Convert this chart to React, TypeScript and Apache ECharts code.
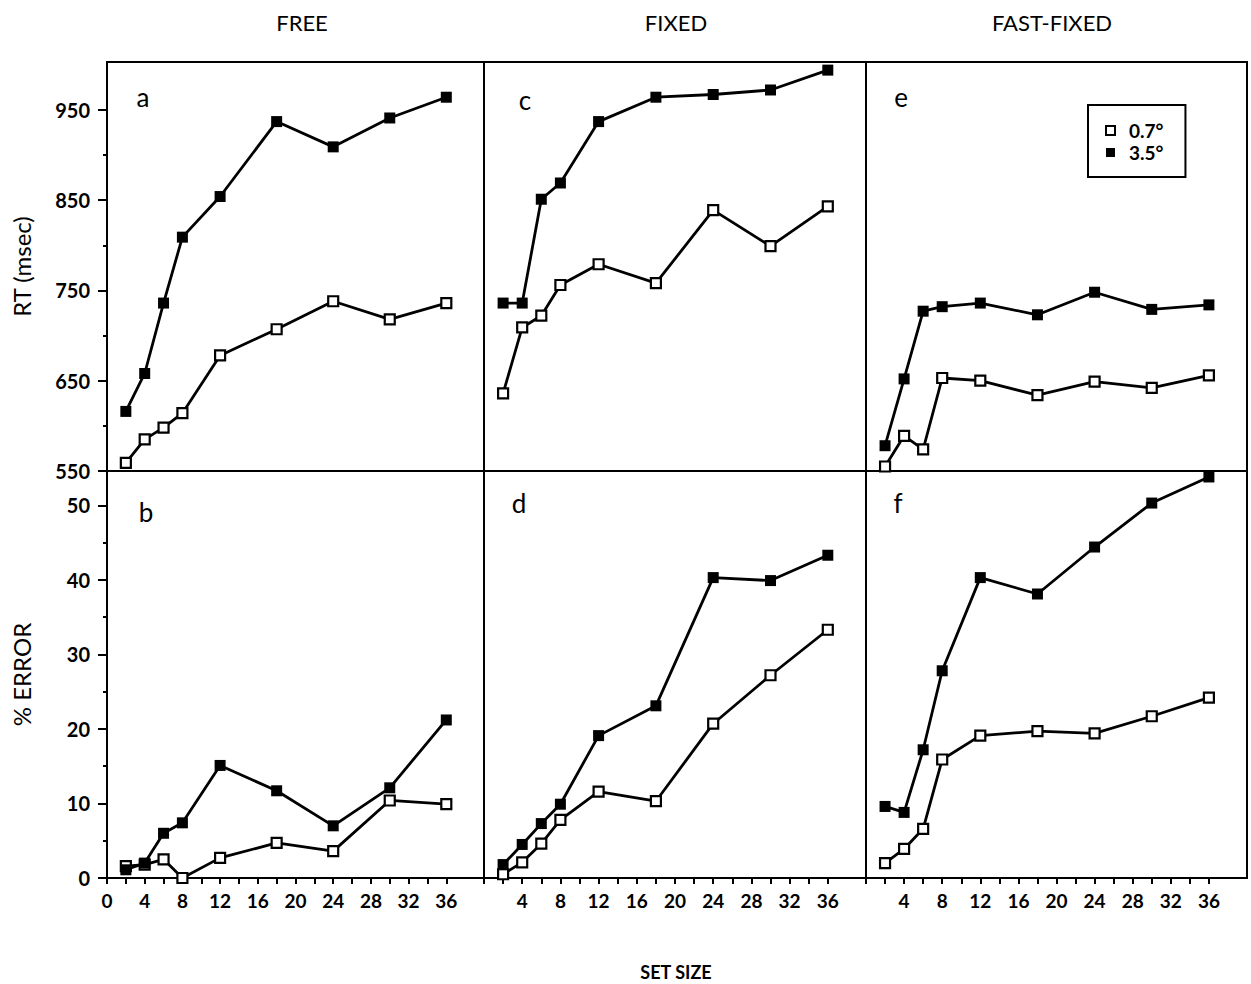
import React, { useEffect, useRef } from "react";
import * as echarts from "echarts";

// ---- data ----
const setSizes = [2, 4, 6, 8, 12, 18, 24, 30, 36];
const seriesNames = ["0.7°", "3.5°"];
const panelTitles = ["FREE", "FIXED", "FAST-FIXED"];
const panelLetters = [["a", "c", "e"], ["b", "d", "f"]];

// RT (msec)
const rtFreeSmall = [559, 585, 598, 614, 678, 707, 738, 718, 736];
const rtFreeLarge = [616, 658, 736, 809, 854, 937, 909, 941, 964];
const rtFixedSmall = [636, 709, 722, 756, 779, 758, 839, 799, 843];
const rtFixedLarge = [736, 736, 851, 869, 937, 964, 967, 972, 994];
const rtFastSmall = [555, 589, 574, 653, 650, 634, 649, 642, 656];
const rtFastLarge = [578, 652, 727, 732, 736, 723, 748, 729, 734];

// % ERROR
const errFreeSmall = [1.6, 1.8, 2.5, 0, 2.7, 4.7, 3.6, 10.4, 9.9];
const errFreeLarge = [1.1, 2.0, 6.0, 7.4, 15.1, 11.7, 7.0, 12.1, 21.2];
const errFixedSmall = [0.5, 2.1, 4.6, 7.8, 11.6, 10.3, 20.7, 27.2, 33.3];
const errFixedLarge = [1.8, 4.5, 7.3, 9.9, 19.1, 23.1, 40.3, 39.9, 43.3];
const errFastSmall = [2.0, 3.9, 6.6, 15.9, 19.1, 19.7, 19.4, 21.7, 24.2];
const errFastLarge = [9.6, 8.8, 17.2, 27.8, 40.3, 38.1, 44.4, 50.3, 53.8];

const rtLabels = [550, 650, 750, 850, 950];
const rtMinor = [600, 700, 800, 900];
const errLabels = [0, 10, 20, 30, 40, 50];
const errMinor = [5, 15, 25, 35, 45];
const xLabels = [0, 4, 8, 12, 16, 20, 24, 28, 32, 36];
const xLabelsInner = [4, 8, 12, 16, 20, 24, 28, 32, 36];
const xTicks = [0, 2, 4, 6, 8, 10, 12, 14, 16, 18, 20, 22, 24, 26, 28, 30, 32, 34, 36];

const rowData = [
  [
    [rtFreeSmall, rtFreeLarge],
    [rtFixedSmall, rtFixedLarge],
    [rtFastSmall, rtFastLarge],
  ],
  [
    [errFreeSmall, errFreeLarge],
    [errFixedSmall, errFixedLarge],
    [errFastSmall, errFastLarge],
  ],
];

const FONT = "Lato";

export default function App() {
  const ref = useRef<HTMLDivElement>(null);

  useEffect(() => {
    if (!ref.current) return;
    const chart = echarts.init(ref.current, null, { renderer: "svg" });

    const cols = [
      { left: 107, width: 377 },
      { left: 484, width: 382 },
      { left: 866, width: 381 },
    ];
    const rows = [
      { top: 62, height: 409, min: 550, max: 1003, labels: rtLabels, minor: rtMinor, name: "RT (msec)" },
      { top: 471, height: 407, min: 0, max: 54.6, labels: errLabels, minor: errMinor, name: "% ERROR" },
    ];

    const grid: any[] = [];
    const xAxis: any[] = [];
    const yAxis: any[] = [];
    const series: any[] = [];
    const graphic: any[] = [];

    rows.forEach((row, r) => {
      cols.forEach((col, c) => {
        const gi = grid.length;
        grid.push({
          left: col.left,
          width: col.width,
          top: row.top,
          height: row.height,
          show: true,
          borderColor: "#000",
          borderWidth: 2,
          backgroundColor: "transparent",
          containLabel: false,
        });
        const bottomRow = r === 1;
        xAxis.push({
          gridIndex: gi,
          type: "value",
          min: 0,
          max: 40,
          interval: 2,
          splitLine: { show: false },
          axisLine: { show: bottomRow, onZero: false, lineStyle: { color: "#000", width: 2 } },
          axisTick: {
            show: bottomRow,
            length: 6,
            customValues: xTicks,
            lineStyle: { color: "#000", width: 2 },
          },
          axisLabel: {
            show: bottomRow,
            customValues: c === 0 ? xLabels : xLabelsInner,
            margin: 13,
            color: "#000",
            fontSize: 19,
            fontWeight: "bold",
            fontFamily: FONT,
          },
        });
        const left = c === 0;
        const mainIdx = yAxis.length;
        yAxis.push({
          gridIndex: gi,
          type: "value",
          position: "left",
          min: row.min,
          max: row.max,
          splitLine: { show: false },
          axisLine: { show: left, onZero: false, lineStyle: { color: "#000", width: 2 } },
          axisTick: {
            show: left,
            length: 9,
            customValues: row.labels,
            lineStyle: { color: "#000", width: 2 },
          },
          axisLabel: {
            show: left,
            customValues: row.labels,
            margin: 17,
            color: "#000",
            fontSize: 20,
            fontWeight: "bold",
            fontFamily: FONT,
          },
          name: left ? row.name : "",
          nameLocation: "middle",
          nameRotate: 90,
          nameGap: 74,
          nameTextStyle: { color: "#000", fontSize: 24, fontFamily: FONT },
        });
        if (left) {
          yAxis.push({
            gridIndex: gi,
            type: "value",
            position: "left",
            offset: 0,
            min: row.min,
            max: row.max,
            splitLine: { show: false },
            axisLine: { show: false },
            axisTick: {
              show: true,
              length: 4,
              customValues: row.minor,
              lineStyle: { color: "#000", width: 2 },
            },
            axisLabel: { show: false },
          });
        }
        const [small, large] = rowData[r][c];
        series.push({
          name: seriesNames[0],
          type: "line",
          xAxisIndex: gi,
          yAxisIndex: mainIdx,
          data: setSizes.map((x, i) => [x, small[i]]),
          symbol: "rect",
          symbolSize: 10,
          lineStyle: { color: "#000", width: 2.8 },
          itemStyle: { color: "#fff", borderColor: "#000", borderWidth: 2.2 },
          z: 3,
        });
        series.push({
          name: seriesNames[1],
          type: "line",
          xAxisIndex: gi,
          yAxisIndex: mainIdx,
          data: setSizes.map((x, i) => [x, large[i]]),
          symbol: "rect",
          symbolSize: 11,
          lineStyle: { color: "#000", width: 2.8 },
          itemStyle: { color: "#000", borderColor: "#000", borderWidth: 0 },
          z: 4,
        });
      });
    });

    const titleX = [302, 676, 1052];
    panelTitles.forEach((t, i) => {
      graphic.push({
        type: "text",
        x: titleX[i],
        y: 22,
        style: { text: t, fill: "#000", font: `22px ${FONT}`, textAlign: "center", textVerticalAlign: "middle" },
      });
    });
    const letterPos = [
      [[143, 97], [525, 100], [901, 97]],
      [[146, 512], [519, 503], [898, 503]],
    ];
    panelLetters.forEach((row, r) =>
      row.forEach((l, c) => {
        graphic.push({
          type: "text",
          x: letterPos[r][c][0],
          y: letterPos[r][c][1],
          style: { text: l, fill: "#000", font: `26px ${FONT}`, textAlign: "center", textVerticalAlign: "middle" },
        });
      })
    );
    graphic.push({
      type: "text",
      x: 676,
      y: 972,
      style: { text: "SET SIZE", fill: "#000", font: `bold 18px ${FONT}`, textAlign: "center", textVerticalAlign: "middle" },
    });

    chart.setOption({
      animation: false,
      backgroundColor: "#fff",
      grid,
      xAxis,
      yAxis,
      series,
      graphic,
      legend: {
        data: seriesNames,
        orient: "vertical",
        left: 1088,
        top: 105,
        icon: "rect",
        itemWidth: 9,
        itemHeight: 9,
        itemGap: 1,
        padding: [15, 22, 14, 17],
        borderColor: "#000",
        borderWidth: 2,
        selectedMode: false,
        textStyle: {
          color: "#000",
          fontSize: 19,
          fontWeight: "bold",
          fontFamily: FONT,
          lineHeight: 21,
          padding: [0, 0, 0, 9],
        },
      },
    });

    return () => chart.dispose();
  }, []);

  return (
    <div
      ref={ref}
      style={{ position: "absolute", left: 0, top: 0, width: 1251, height: 984, background: "#fff" }}
    />
  );
}
